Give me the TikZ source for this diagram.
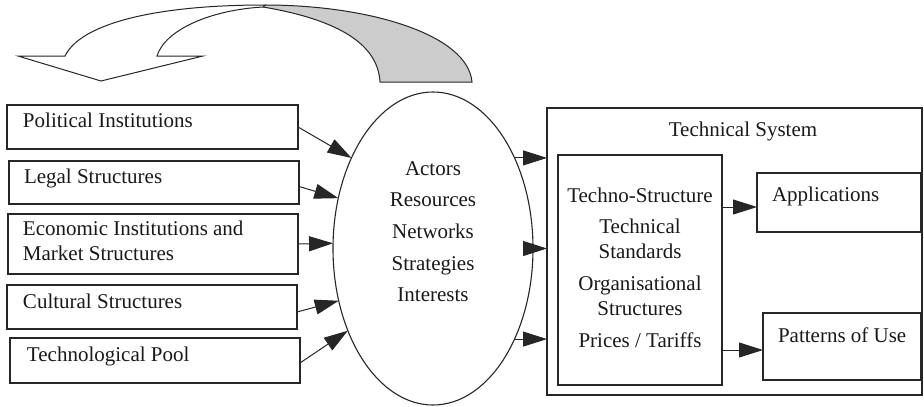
\documentclass[tikz,border=0pt]{standalone}
\usepackage{fontspec}
\setmainfont{Liberation Serif}
\usetikzlibrary{arrows.meta,shapes.geometric}
\begin{document}
\begin{tikzpicture}[x=1pt,y=-1pt,
  line/.style={draw=black!85, line width=1.1pt},
  box/.style={line, rectangle, inner sep=0pt, outer sep=0pt, anchor=north west},
  txt/.style={inner sep=0pt, outer sep=0pt, text=black!90, font=\fontsize{21}{25}\selectfont},
  conn/.style={draw=black!85, line width=1pt, -{Triangle[length=24pt,width=15pt]}},
]
\useasboundingbox (0,0) rectangle (924,407);

% curved feedback arrow: shaded back side of the ribbon
\path[line, line width=1pt, fill=gray!40]
  (265,5) .. controls (370,5) and (468,35) .. (472,82) -- (380,82)
  .. controls (378,45) and (340,20) .. (263,7) -- cycle;
% front side of the ribbon with its arrowhead
\path[line, line width=1pt, fill=white]
  (65,56) -- (18,56) -- (101,81) -- (203,56) -- (157,56)
  .. controls (165,30) and (210,10) .. (263,7) -- (265,5)
  .. controls (150,5) and (80,25) .. (65,56) -- cycle;

% left column of context boxes
\node[box, minimum width=291, minimum height=44] (pol) at (7,105) {};
\node[box, minimum width=290, minimum height=43] (leg) at (9,161) {};
\node[box, minimum width=290, minimum height=60] (eco) at (8,214) {};
\node[box, minimum width=290, minimum height=44] (cul) at (7,285) {};
\node[box, minimum width=290, minimum height=45] (tec) at (10,338) {};

% (for multi-line texts the base anchor sits on the last line)
\node[txt, anchor=base west] (polt) at (23,127.7) {Political Institutions};
\node[txt, anchor=base west] (legt) at (24,183.3) {Legal Structures};
\node[txt, anchor=base west, align=left] (ecot) at (23,260.7) {Economic Institutions and\\Market Structures};
\node[txt, anchor=base west] (cult) at (23,308.3) {Cultural Structures};
\node[txt, anchor=base west] (tect) at (27,361.7) {Technological Pool};

% actors ellipse
\node[line, ellipse, minimum width=200, minimum height=313, inner sep=0pt, outer sep=0pt] (ell) at (433,248.5) {};
\node[txt, anchor=base, align=center, font=\fontsize{21}{31.6}\selectfont] (actt) at (433,301.7)
  {Actors\\Resources\\Networks\\Strategies\\Interests};

% technical system
\node[box, line width=1.3pt, minimum width=375, minimum height=287] (ts) at (547,108) {};
\node[txt, anchor=base] (tstitle) at (743,136.7) {Technical System};
\node[box, minimum width=164, minimum height=230] (core) at (558,155) {};
\node[txt, anchor=base] (c1t) at (640,202.7) {Techno-Structure};
\node[txt, anchor=base, align=center] (c2t) at (640,258) {Technical\\Standards};
\node[txt, anchor=base, align=center] (c3t) at (640,315) {Organisational\\Structures};
\node[txt, anchor=base] (c4t) at (640,347) {Prices / Tariffs};

\node[box, minimum width=164, minimum height=59] (app) at (757,173) {};
\node[txt, anchor=base west] (appt) at (772,201.7) {Applications};
\node[box, minimum width=158, minimum height=67] (pat) at (763,313) {};
\node[txt, anchor=base west] (patt) at (778,342) {Patterns of Use};

% influences on the actors
\draw[conn] (pol.east) -- (ell.132);
\draw[conn] ([yshift=-4pt]leg.east) -- (ell.152);
\draw[conn] (eco.east) -- (ell.177);
\draw[conn] ([yshift=-5pt]cul.east) -- (ell.209.6);
\draw[conn] ([yshift=-2.5pt]tec.east) -- (ell.224.5);

% actors shape the technical system
\draw[conn] (ell.48.5) -- (ell.48.5 -| ts.west);
\draw[conn] (ell.east) -- (ell.east -| ts.west);
\draw[conn] (ell.-48.5) -- (ell.-48.5 -| ts.west);

% outputs of the techno-structure
\coordinate (appin) at ([yshift=-4.5pt]app.west);
\coordinate (patin) at ([yshift=-3.5pt]pat.west);
\draw[conn] (appin -| core.east) -- (appin);
\draw[conn] (patin -| core.east) -- (patin);
\end{tikzpicture}
\end{document}
